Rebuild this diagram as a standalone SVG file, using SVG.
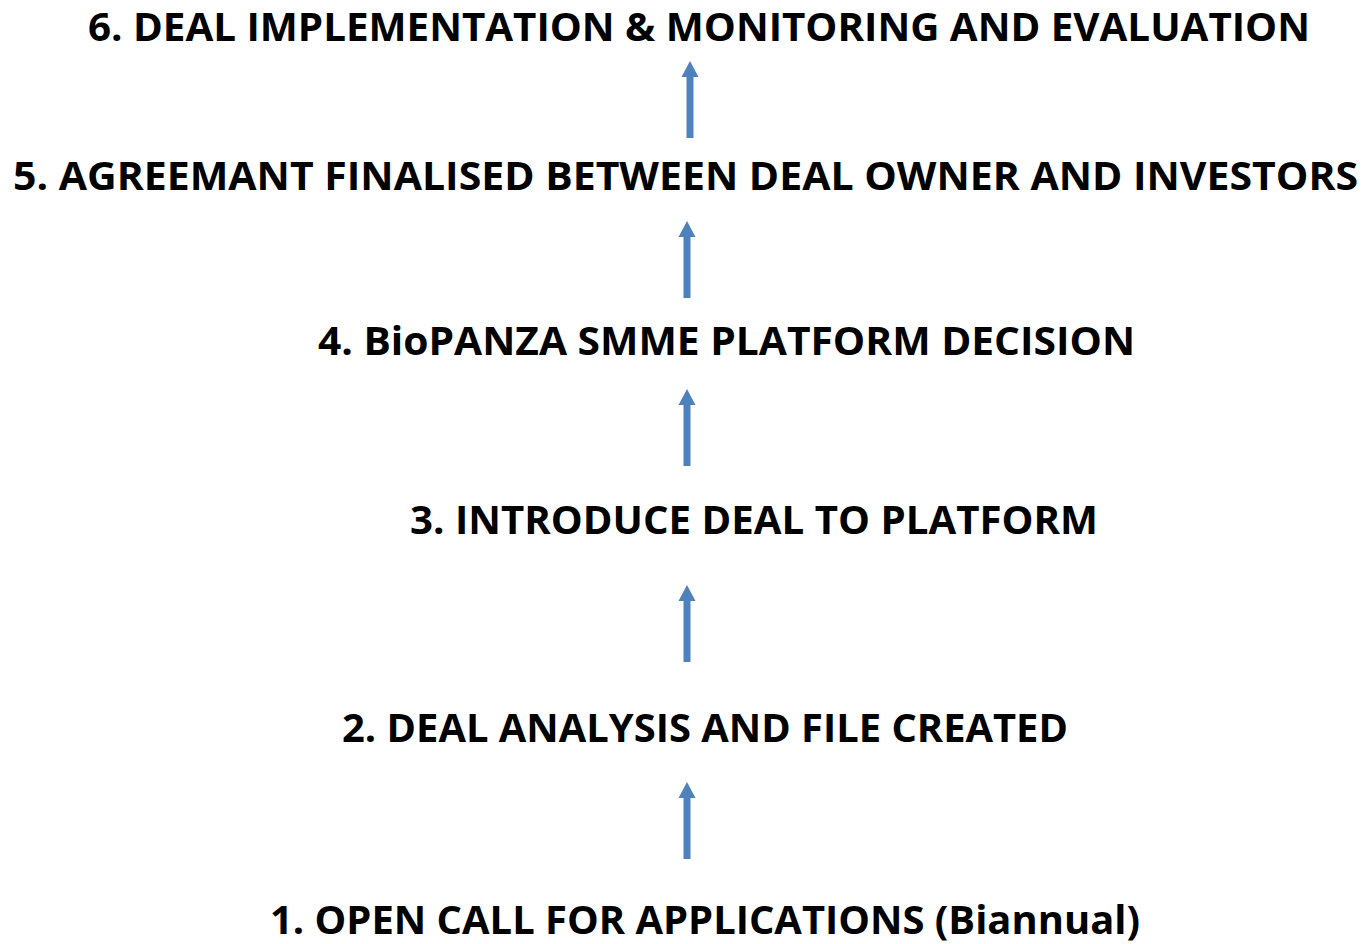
<svg xmlns="http://www.w3.org/2000/svg" width="1365" height="944" viewBox="0 0 1365 944">
<style>
.t{font-family:"Open Sans","Noto Sans","Liberation Sans",sans-serif;font-weight:bold;fill:#000;font-size:40px}
.a{fill:#4f81bd}
</style>
<rect width="1365" height="944" fill="#fff"/>
<g id="node6"><text class="t" x="88" y="41" style="font-size:39px" textLength="1222" lengthAdjust="spacingAndGlyphs">6. DEAL IMPLEMENTATION &amp; MONITORING AND EVALUATION</text></g>
<g id="node5"><text class="t" x="13" y="190" textLength="1345" lengthAdjust="spacingAndGlyphs">5. AGREEMANT FINALISED BETWEEN DEAL OWNER AND INVESTORS</text></g>
<g id="node4"><text class="t" x="318" y="355" textLength="817" lengthAdjust="spacingAndGlyphs">4. BioPANZA SMME PLATFORM DECISION</text></g>
<g id="node3"><text class="t" x="410" y="534" textLength="688" lengthAdjust="spacingAndGlyphs">3. INTRODUCE DEAL TO PLATFORM</text></g>
<g id="node2"><text class="t" x="342" y="742" textLength="726" lengthAdjust="spacingAndGlyphs">2. DEAL ANALYSIS AND FILE CREATED</text></g>
<g id="node1"><text class="t" x="270" y="934" textLength="870" lengthAdjust="spacingAndGlyphs">1. OPEN CALL FOR APPLICATIONS (Biannual)</text></g>
<g id="connectors">
<polygon class="a" points="690,61 698.5,77 693.5,77 693.5,138 686.5,138 686.5,77 681.5,77"/>
<polygon class="a" points="687,221 695.5,237 690.5,237 690.5,298 683.5,298 683.5,237 678.5,237"/>
<polygon class="a" points="687,389 695.5,405 690.5,405 690.5,466 683.5,466 683.5,405 678.5,405"/>
<polygon class="a" points="687,585 695.5,601 690.5,601 690.5,662 683.5,662 683.5,601 678.5,601"/>
<polygon class="a" points="687,782 695.5,798 690.5,798 690.5,859 683.5,859 683.5,798 678.5,798"/>
</g>
</svg>
